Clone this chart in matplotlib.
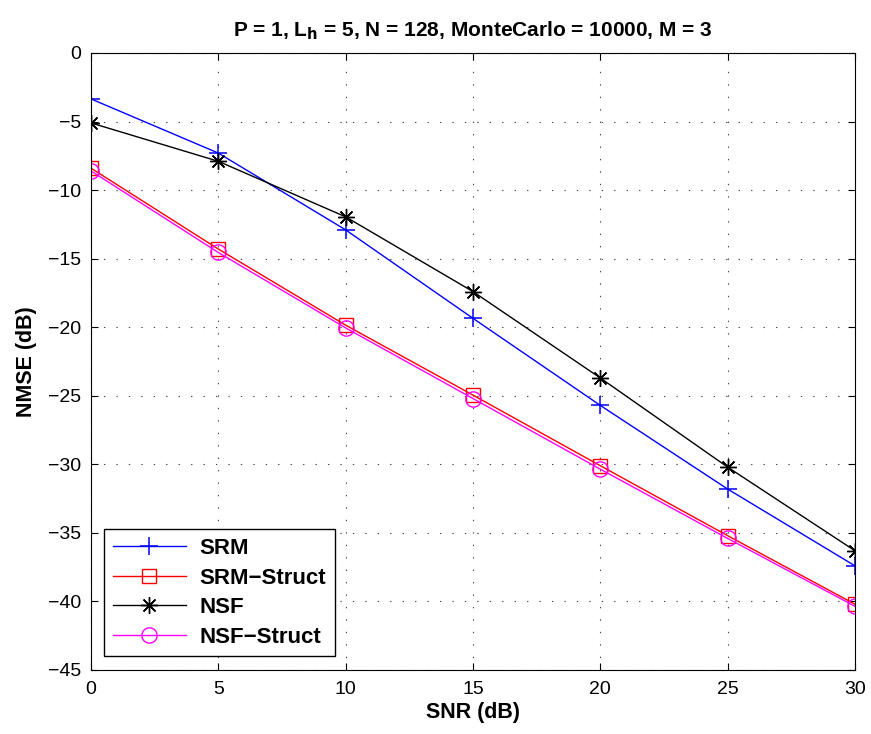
import matplotlib
matplotlib.use('Agg')
import matplotlib.pyplot as plt

# values
snr = [0, 5, 10, 15, 20, 25, 30]
srm = [-3.35, -7.3, -12.9, -19.35, -25.7, -31.8, -37.4]
srm_struct = [-8.4, -14.3, -19.85, -24.95, -30.1, -35.2, -40.2]
nsf = [-5.1, -7.9, -11.95, -17.4, -23.7, -30.2, -36.3]
nsf_struct = [-8.6, -14.55, -20.05, -25.2, -30.35, -35.4, -40.35]

plt.rcParams['font.family'] = ['Liberation Sans', 'DejaVu Sans']

fig = plt.figure(figsize=(8.71, 7.34), dpi=100)
ax = fig.add_axes([0.1045, 0.0872, 0.877, 0.8406])

ax.plot(snr, srm, color='blue', marker='+', ms=13, mew=1.1, lw=1, label='SRM')
ax.plot(snr, srm_struct, color='red', marker='s', ms=10, mfc='none', mew=1, lw=1, label='SRM\u2212Struct')
ax.plot(snr, nsf, color='black', marker=(8, 2, 0), ms=12, mew=1, lw=1, label='NSF')
ax.plot(snr, nsf_struct, color='magenta', marker='o', ms=11, mfc='none', mew=1, lw=1, label='NSF\u2212Struct')

ax.set_xlim(0, 30)
ax.set_ylim(-45, 0)
ax.set_xticks(range(0, 31, 5))
ax.set_yticks(range(-45, 1, 5))
ax.set_yticklabels(['\u221245', '\u221240', '\u221235', '\u221230', '\u221225', '\u221220',
                    '\u221215', '\u221210', '\u22125', '0'])
ax.tick_params(direction='in', labelsize=14, length=5, top=True, right=True)
ax.tick_params(axis='x', pad=8)
ax.tick_params(axis='y', pad=7)
ax.grid(True, ls=(0, (1.2, 10)), color='#444444', lw=0.8)

ax.set_xlabel('SNR (dB)', fontsize=15.5, fontweight='bold', labelpad=3)
ax.set_ylabel('NMSE (dB)', fontsize=15.5, fontweight='bold', labelpad=8)
ax.set_title('P = 1, L$_\\mathbf{h}$ = 5, N = 128, MonteCarlo = 10000, M = 3',
             fontsize=15, fontweight='bold', pad=12)

leg = ax.legend(loc='lower left', fancybox=False, framealpha=1,
                edgecolor='black', borderpad=0.4, handlelength=3.3, labelspacing=0.38,
                handletextpad=0.6, bbox_to_anchor=(0.002, 0.004), prop={'weight': 'bold', 'size': 16})
leg.get_frame().set_linewidth(1)

fig.savefig('out.png', dpi=100)
